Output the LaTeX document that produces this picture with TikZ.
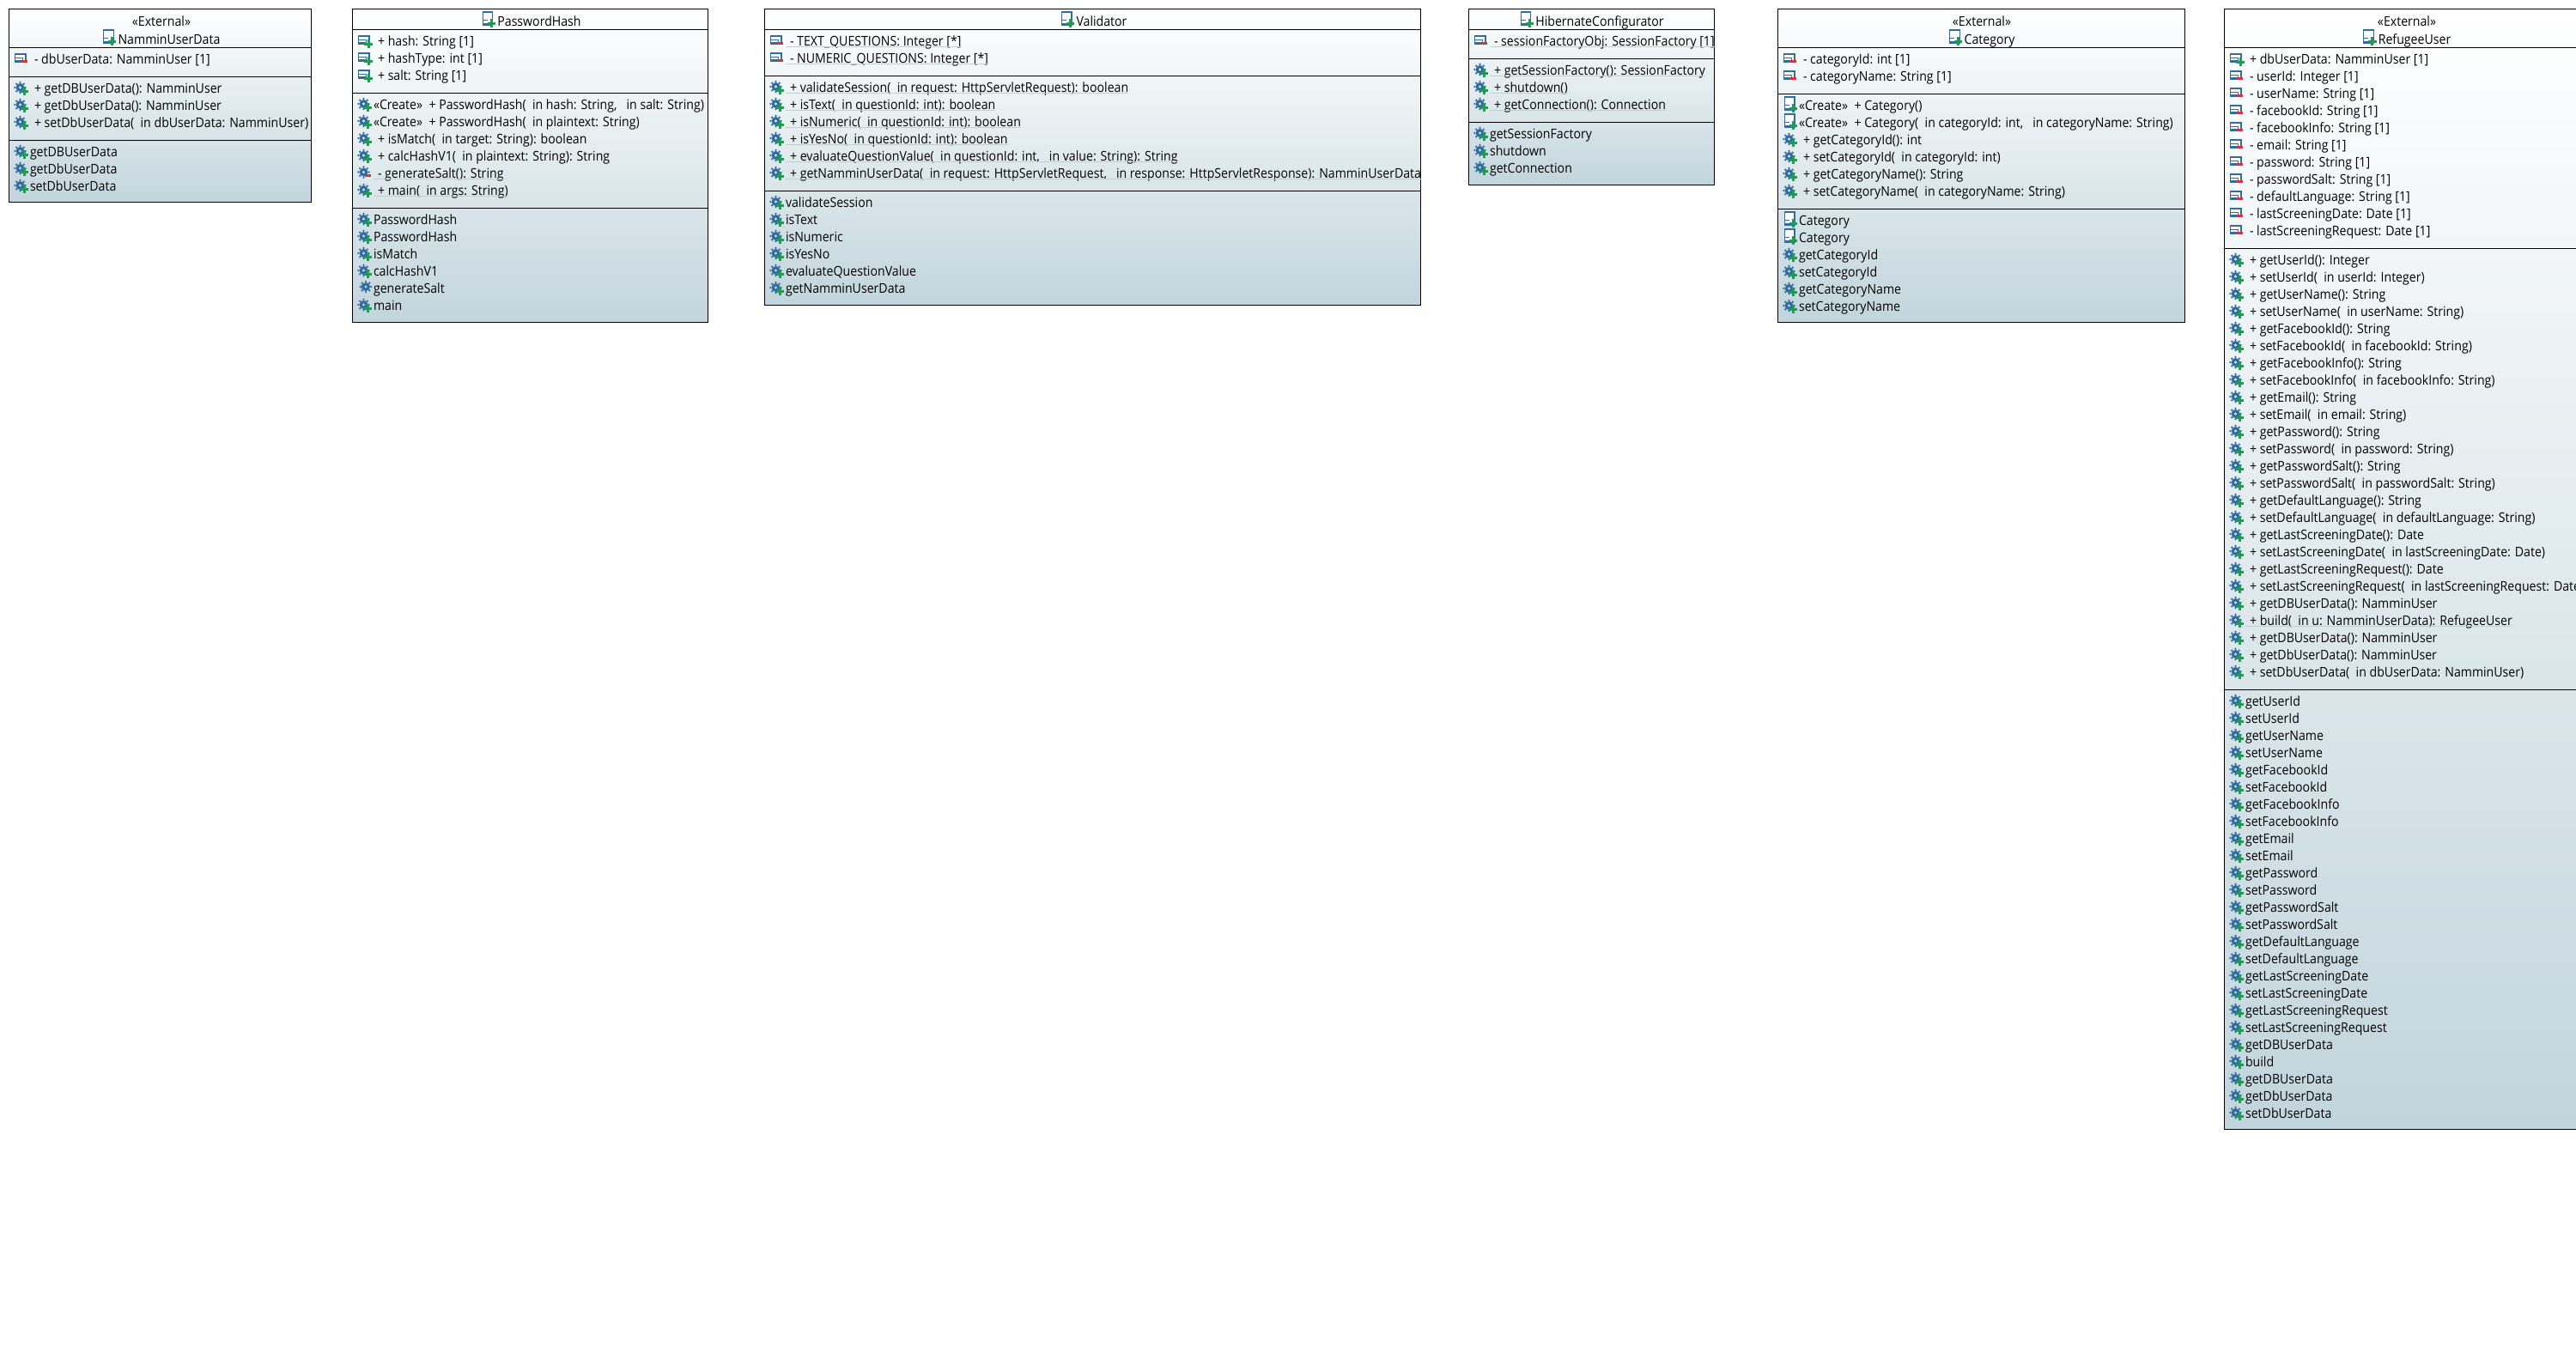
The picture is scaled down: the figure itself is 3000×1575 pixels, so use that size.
\documentclass[tikz,border=0pt]{standalone}
\usepackage{fontspec}
\setmainfont[FakeStretch=0.912]{Open Sans}
\usetikzlibrary{calc}
\definecolor{edge}{HTML}{000000}
\definecolor{gradtop}{HTML}{FFFFFF}
\definecolor{gradbot}{HTML}{C2D5DC}
\definecolor{iblue}{HTML}{2F6C9F}
\definecolor{ilight}{HTML}{8FB4D0}
\definecolor{igreen}{HTML}{1F9B55}
\definecolor{ired}{HTML}{D8343C}
\definecolor{udl}{HTML}{C3CDD2}
\tikzset{
  umlbox/.style={draw=edge,line width=1.1pt,top color=gradtop,bottom color=gradbot,shading angle=0},
  sepline/.style={draw=edge,line width=1pt},
  rowtext/.style={anchor=base west,inner sep=0pt,outer sep=0pt,font=\fontsize{15.5}{18}\selectfont,text=black},
  titletext/.style={anchor=base,inner sep=0pt,outer sep=0pt,font=\fontsize{15.5}{18}\selectfont,text=black},
  ulin/.style={draw=udl,line width=1pt},
}
\newcommand\plusmark[2]{%
  \fill[igreen,shift={(#1,#2)}] (-1.5,-4.8) rectangle (1.5,4.8);
  \fill[igreen,shift={(#1,#2)}] (-4.8,-1.5) rectangle (4.8,1.5);
}
\newcommand\minusmark[2]{%
  \fill[ired,shift={(#1,#2)}] (-3.6,-1.7) rectangle (3.6,1.7);
}
\newcommand\gear[3]{% cx cy radius
  \fill[iblue,even odd rule,shift={(#1,#2)}] (0,0) circle[radius=#3] (0,0) circle[radius=#3*0.36];
  \foreach \a in {0,45,...,315}{\fill[iblue,shift={(#1,#2)}] (\a:#3*1.22) circle[radius=#3*0.26];}
}
% icons; x argument is the left edge of the class box, y the centre of the row
\newcommand\icon[3]{%
  \ifnum#1=1 %
    \gear{#2+13.5}{#3-1}{5}\plusmark{#2+18.5}{#3+3}%
  \fi
  \ifnum#1=2 %
    \gear{#2+13.5}{#3-1.5}{5}\minusmark{#2+18.5}{#3+2.5}%
  \fi
  \ifnum#1=3 %
    \fill[ilight] (#2+11.5,#3-2) circle[radius=3];
    \gear{#2+16}{#3-2}{5}%
  \fi
  \ifnum#1=4 %
    \draw[iblue,line width=1.2pt,fill=white] (#2+7.5,#3-6) rectangle (#2+20,#3+3);
    \draw[iblue,line width=1pt,fill=white] (#2+7.5,#3-2) rectangle (#2+16,#3+1.5);
    \plusmark{#2+19}{#3+3}%
  \fi
  \ifnum#1=5 %
    \draw[iblue,line width=1.2pt,fill=white] (#2+7.5,#3-6) rectangle (#2+20,#3+3);
    \draw[iblue,line width=1pt,fill=white] (#2+7.5,#3-2) rectangle (#2+16,#3+1.5);
    \minusmark{#2+18.5}{#3+2.6}%
  \fi
  \ifnum#1=6 %
    \draw[iblue,line width=1.1pt,fill=white] (#2+8.5,#3-10) rectangle (#2+20,#3+5);
    \draw[iblue,line width=1pt] (#2+8.5,#3-1) -- (#2+14,#3-1);
    \draw[iblue,line width=1pt] (#2+8.5,#3+3) -- (#2+14,#3+3);
    \plusmark{#2+18.5}{#3+3}%
  \fi
}
\newcount\nodeno
\newcount\cy
\newcount\cxl
\newcommand\at[2]{\global\cxl=#1\relax\global\cy=#2\relax}
\newcommand\RW[2]{%
  \global\advance\nodeno by 1
  \icon{#1}{\the\cxl}{\the\cy}%
  \node[rowtext] (t\the\nodeno) at (\the\numexpr\cxl+30\relax,\the\numexpr\cy+5\relax) {#2};
  \global\advance\cy by 20
}
\newcommand\RC[2]{%
  \global\advance\nodeno by 1
  \icon{#1}{\the\cxl}{\the\cy}%
  \node[rowtext] (t\the\nodeno) at (\the\numexpr\cxl+25\relax,\the\numexpr\cy+5\relax) {#2};
  \global\advance\cy by 20
}
\newcommand\RU[2]{%
  \global\advance\nodeno by 1
  \icon{#1}{\the\cxl}{\the\cy}%
  \coordinate (u\the\nodeno) at (\the\numexpr\cxl+25\relax,\the\numexpr\cy+6\relax);
  \node[rowtext] (t\the\nodeno) at (\the\numexpr\cxl+30\relax,\the\numexpr\cy+5\relax) {#2};
  \draw[ulin] (u\the\nodeno) -- ([yshift=-1pt]t\the\nodeno.base east);
  \global\advance\cy by 20
}
\newcommand\TT[3]{%
  \global\advance\nodeno by 1
  \node[titletext] (t\the\nodeno) at (#1,#2) {#3};
}
\newcommand\CT[3]{%
  \global\advance\nodeno by 1
  \node[titletext] (t\the\nodeno) at (#1,#2) {#3};
  \begin{scope}[shift={(t\the\nodeno.base west)}]\icon{6}{-25.5}{-6}\end{scope}
}
\newcommand\SL[3]{\draw[sepline] (#1,#3) -- (#2,#3);}
\begin{document}
\begin{tikzpicture}[x=1pt,y=-1pt]
\useasboundingbox (0,0) rectangle (3000,1575);
\clip (0,0) rectangle (3000,1575);
\fill[white] (0,0) rectangle (3000,1575);
% NamminUserData
\node[umlbox,minimum width=352pt,minimum height=225pt,anchor=north west,inner sep=0pt] (box1) at (10,10) {};
\SL{10}{362}{55}\SL{10}{362}{89}\SL{10}{362}{163}
\TT{188}{30}{«External»}\CT{197}{51}{NamminUserData}
\at{10}{69}\RW{5}{- dbUserData: NamminUser [1]}
\at{10}{103}\RW{1}{+ getDBUserData(): NamminUser}\RW{1}{+ getDbUserData(): NamminUser}\RW{1}{+ setDbUserData(~~in dbUserData: NamminUser)}
\at{10}{177}\RC{1}{getDBUserData}\RC{1}{getDbUserData}\RC{1}{setDbUserData}
% PasswordHash
\node[umlbox,minimum width=414pt,minimum height=365pt,anchor=north west,inner sep=0pt] (box2) at (410,10) {};
\SL{410}{824}{34}\SL{410}{824}{108}\SL{410}{824}{242}
\CT{628}{30}{PasswordHash}
\at{410}{48}\RW{4}{+ hash: String [1]}\RW{4}{+ hashType: int [1]}\RW{4}{+ salt: String [1]}
\at{410}{122}\RC{1}{«Create»~~+ PasswordHash(~~in hash: String,~~~in salt: String)}\RC{1}{«Create»~~+ PasswordHash(~~in plaintext: String)}\RW{1}{+ isMatch(~~in target: String): boolean}\RW{1}{+ calcHashV1(~~in plaintext: String): String}\RU{2}{- generateSalt(): String}\RU{1}{+ main(~~in args: String)}
\at{410}{256}\RC{1}{PasswordHash}\RC{1}{PasswordHash}\RC{1}{isMatch}\RC{1}{calcHashV1}\RC{3}{generateSalt}\RC{1}{main}
% Validator
\node[umlbox,minimum width=764pt,minimum height=345pt,anchor=north west,inner sep=0pt] (box3) at (890,10) {};
\SL{890}{1654}{34}\SL{890}{1654}{88}\SL{890}{1654}{222}
\CT{1283}{30}{Validator}
\at{890}{48}\RU{5}{- TEXT\_QUESTIONS: Integer [*]}\RU{5}{- NUMERIC\_QUESTIONS: Integer [*]}
\at{890}{102}\RU{1}{+ validateSession(~~in request: HttpServletRequest): boolean}\RU{1}{+ isText(~~in questionId: int): boolean}\RU{1}{+ isNumeric(~~in questionId: int): boolean}\RU{1}{+ isYesNo(~~in questionId: int): boolean}\RU{1}{+ evaluateQuestionValue(~~in questionId: int,~~~in value: String): String}\RU{1}{+ getNamminUserData(~~in request: HttpServletRequest,~~~in response: HttpServletResponse): NamminUserData}
\at{890}{236}\RC{1}{validateSession}\RC{1}{isText}\RC{1}{isNumeric}\RC{1}{isYesNo}\RC{1}{evaluateQuestionValue}\RC{1}{getNamminUserData}
% HibernateConfigurator
\node[umlbox,minimum width=286pt,minimum height=205pt,anchor=north west,inner sep=0pt] (box4) at (1710,10) {};
\SL{1710}{1996}{34}\SL{1710}{1996}{68}\SL{1710}{1996}{142}
\CT{1863}{30}{HibernateConfigurator}
\at{1710}{48}\RU{5}{- sessionFactoryObj: SessionFactory [1]}
\at{1710}{82}\RU{1}{+ getSessionFactory(): SessionFactory}\RU{1}{+ shutdown()}\RU{1}{+ getConnection(): Connection}
\at{1710}{156}\RC{1}{getSessionFactory}\RC{1}{shutdown}\RC{1}{getConnection}
% Category
\node[umlbox,minimum width=474pt,minimum height=365pt,anchor=north west,inner sep=0pt] (box5) at (2070,10) {};
\SL{2070}{2544}{55}\SL{2070}{2544}{109}\SL{2070}{2544}{243}
\TT{2308}{30}{«External»}\CT{2317}{51}{Category}
\at{2070}{69}\RW{5}{- categoryId: int [1]}\RW{5}{- categoryName: String [1]}
\at{2070}{123}\RC{6}{«Create»~~+ Category()}\RC{6}{«Create»~~+ Category(~~in categoryId: int,~~~in categoryName: String)}\RW{1}{+ getCategoryId(): int}\RW{1}{+ setCategoryId(~~in categoryId: int)}\RW{1}{+ getCategoryName(): String}\RW{1}{+ setCategoryName(~~in categoryName: String)}
\at{2070}{257}\RC{6}{Category}\RC{6}{Category}\RC{1}{getCategoryId}\RC{1}{setCategoryId}\RC{1}{getCategoryName}\RC{1}{setCategoryName}
% RefugeeUser
\node[umlbox,minimum width=600pt,minimum height=1305pt,anchor=north west,inner sep=0pt] (box6) at (2590,10) {};
\SL{2590}{3010}{55}\SL{2590}{3010}{289}\SL{2590}{3010}{803}
\TT{2803}{30}{«External»}\CT{2812}{51}{RefugeeUser}
\at{2590}{69}\RW{4}{+ dbUserData: NamminUser [1]}\RW{5}{- userId: Integer [1]}\RW{5}{- userName: String [1]}\RW{5}{- facebookId: String [1]}\RW{5}{- facebookInfo: String [1]}\RW{5}{- email: String [1]}\RW{5}{- password: String [1]}\RW{5}{- passwordSalt: String [1]}\RW{5}{- defaultLanguage: String [1]}\RW{5}{- lastScreeningDate: Date [1]}\RW{5}{- lastScreeningRequest: Date [1]}
\at{2590}{303}\RW{1}{+ getUserId(): Integer}\RW{1}{+ setUserId(~~in userId: Integer)}\RW{1}{+ getUserName(): String}\RW{1}{+ setUserName(~~in userName: String)}\RW{1}{+ getFacebookId(): String}\RW{1}{+ setFacebookId(~~in facebookId: String)}\RW{1}{+ getFacebookInfo(): String}\RW{1}{+ setFacebookInfo(~~in facebookInfo: String)}\RW{1}{+ getEmail(): String}\RW{1}{+ setEmail(~~in email: String)}\RW{1}{+ getPassword(): String}\RW{1}{+ setPassword(~~in password: String)}\RW{1}{+ getPasswordSalt(): String}\RW{1}{+ setPasswordSalt(~~in passwordSalt: String)}\RW{1}{+ getDefaultLanguage(): String}\RW{1}{+ setDefaultLanguage(~~in defaultLanguage: String)}\RW{1}{+ getLastScreeningDate(): Date}\RW{1}{+ setLastScreeningDate(~~in lastScreeningDate: Date)}\RW{1}{+ getLastScreeningRequest(): Date}\RW{1}{+ setLastScreeningRequest(~~in lastScreeningRequest: Date)}\RW{1}{+ getDBUserData(): NamminUser}\RU{1}{+ build(~~in u: NamminUserData): RefugeeUser}\RW{1}{+ getDBUserData(): NamminUser}\RW{1}{+ getDbUserData(): NamminUser}\RW{1}{+ setDbUserData(~~in dbUserData: NamminUser)}
\at{2590}{817}\RC{1}{getUserId}\RC{1}{setUserId}\RC{1}{getUserName}\RC{1}{setUserName}\RC{1}{getFacebookId}\RC{1}{setFacebookId}\RC{1}{getFacebookInfo}\RC{1}{setFacebookInfo}\RC{1}{getEmail}\RC{1}{setEmail}\RC{1}{getPassword}\RC{1}{setPassword}\RC{1}{getPasswordSalt}\RC{1}{setPasswordSalt}\RC{1}{getDefaultLanguage}\RC{1}{setDefaultLanguage}\RC{1}{getLastScreeningDate}\RC{1}{setLastScreeningDate}\RC{1}{getLastScreeningRequest}\RC{1}{setLastScreeningRequest}\RC{1}{getDBUserData}\RC{1}{build}\RC{1}{getDBUserData}\RC{1}{getDbUserData}\RC{1}{setDbUserData}
\end{tikzpicture}
\end{document}
